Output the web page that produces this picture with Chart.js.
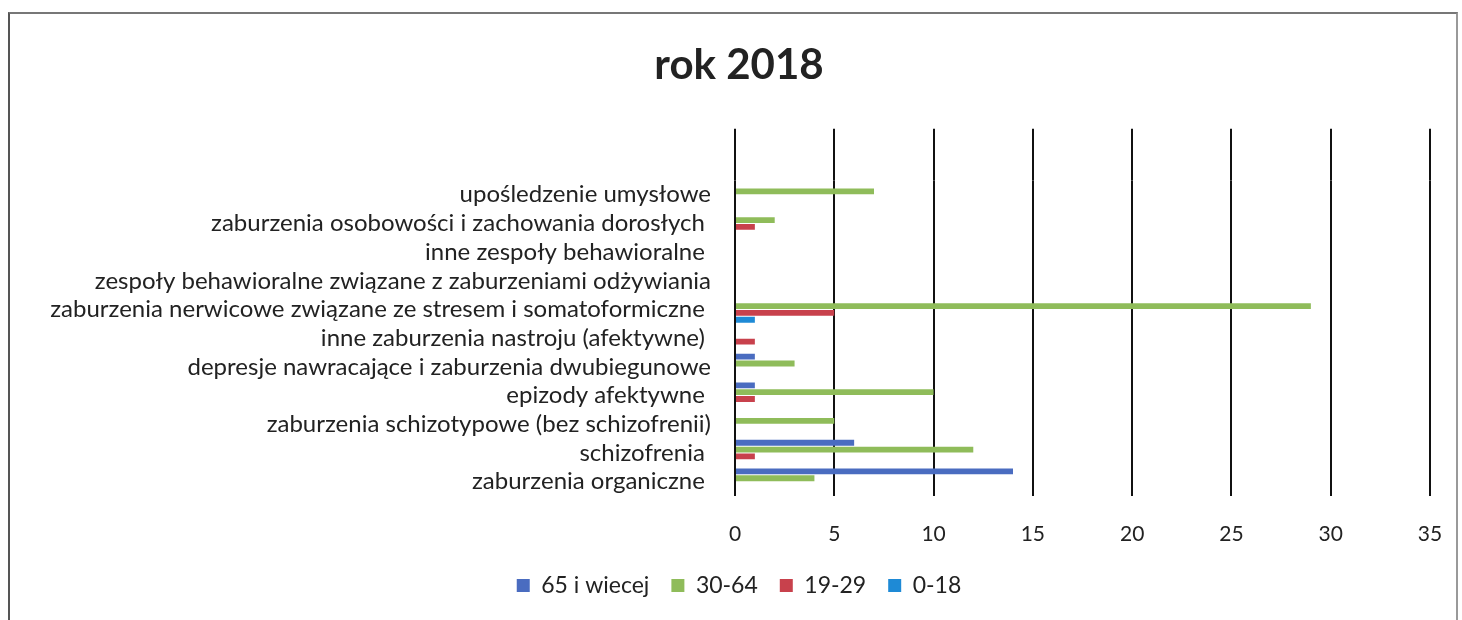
<!DOCTYPE html>
<html>
<head>
<meta charset="utf-8">
<script src="https://cdn.jsdelivr.net/npm/chart.js@4"></script>
<style>
  html, body { margin: 0; padding: 0; background: #fff; overflow: hidden; }
  #ramka { position: absolute; left: 8px; top: 12px; width: 1446px; height: 620px;
           border-left: 2px solid #555; border-top: 2px solid #777; border-right: 2px solid #999; }
  #wrap { position: absolute; left: 0; top: 0; width: 1462px; height: 620px; }
</style>
</head>
<body>
<div id="ramka"></div>
<div id="wrap"><canvas id="wykres"></canvas></div>
<script>
// kategorie od góry do dołu
const kategorie = [
  'upośledzenie umysłowe',
  'zaburzenia osobowości i zachowania dorosłych ',
  'inne zespoły behawioralne ',
  'zespoły behawioralne związane z zaburzeniami odżywiania',
  'zaburzenia nerwicowe związane ze stresem i somatoformiczne ',
  'inne zaburzenia nastroju (afektywne) ',
  'depresje nawracające i zaburzenia dwubiegunowe',
  'epizody afektywne ',
  'zaburzenia schizotypowe (bez schizofrenii)',
  'schizofrenia ',
  'zaburzenia organiczne '
];

const wiek65 = [0, 0, 0, 0, 0, 0, 1, 1, 0, 6, 14];
const wiek30_64 = [7, 2, 0, 0, 29, 0, 3, 10, 5, 12, 4];
const wiek19_29 = [0, 1, 0, 0, 5, 1, 0, 1, 0, 1, 0];
const wiek0_18 = [0, 0, 0, 0, 1, 0, 0, 0, 0, 0, 0];

const osX = [0, 5, 10, 15, 20, 25, 30, 35];

const czcionka = 'Lato, "Open Sans", sans-serif';

// przedłużenie linii siatki ponad obszar wykresu (jak w oryginale)
const liniePlugin = {
  id: 'liniePlugin',
  afterDraw(chart) {
    const ctx = chart.ctx;
    const x = chart.scales.x;
    const y = chart.scales.y;
    const pasmo = (y.bottom - y.top) / kategorie.length;
    const gora = chart.chartArea.top - pasmo * 1.8;
    ctx.save();
    ctx.strokeStyle = '#111';
    ctx.lineWidth = 2;
    osX.forEach(v => {
      const px = Math.round(x.getPixelForValue(v));
      ctx.beginPath();
      ctx.moveTo(px, gora);
      ctx.lineTo(px, chart.chartArea.top);
      ctx.stroke();
    });
    ctx.restore();
  }
};

new Chart(document.getElementById('wykres'), {
  type: 'bar',
  data: {
    labels: kategorie,
    datasets: [
      { label: '65 i wiecej', data: wiek65, backgroundColor: '#4a6cc0' },
      { label: '30-64', data: wiek30_64, backgroundColor: '#8fbc5a' },
      { label: '19-29', data: wiek19_29, backgroundColor: '#c8414c' },
      { label: '0-18', data: wiek0_18, backgroundColor: '#1e8ad6' }
    ]
  },
  options: {
    indexAxis: 'y',
    responsive: true,
    maintainAspectRatio: false,
    animation: false,
    datasets: { bar: { categoryPercentage: 0.95, barPercentage: 0.85 } },
    layout: { padding: { left: 48, right: 32, top: 0, bottom: 13 } },
    plugins: {
      title: {
        display: true,
        text: 'rok 2018',
        color: '#222',
        font: { family: czcionka, size: 42, weight: 'bold' },
        padding: { top: 40, bottom: 90 }
      },
      legend: {
        position: 'bottom',
        labels: {
          color: '#222',
          font: { family: czcionka, size: 23 },
          boxWidth: 13,
          boxHeight: 13,
          padding: 22
        }
      },
      tooltip: { enabled: false }
    },
    scales: {
      x: {
        min: 0,
        max: 35,
        afterFit(scale) {
          scale.height = 56;
          scale.paddingLeft = 0;
          scale.paddingRight = 0;
        },
        ticks: { stepSize: 5, color: '#222', font: { family: czcionka, size: 21 }, padding: 26 },
        grid: { color: '#111', lineWidth: 2, drawTicks: false },
        border: { display: false }
      },
      y: {
        afterFit(scale) { scale.width = 687; },
        ticks: { color: '#222', font: { family: czcionka, size: 24 }, padding: 24, autoSkip: false },
        grid: { display: false, drawTicks: false },
        border: { display: false }
      }
    }
  },
  plugins: [liniePlugin]
});
</script>
</body>
</html>
